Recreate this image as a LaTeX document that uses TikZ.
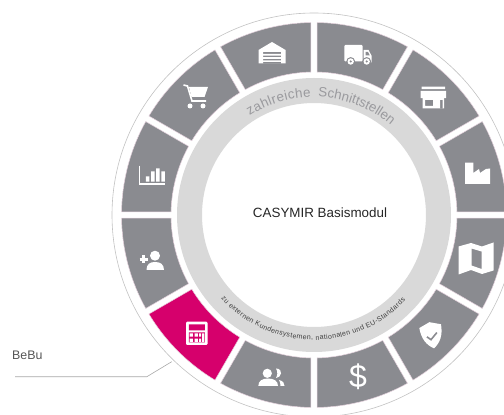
\documentclass[tikz,border=0pt]{standalone}
\usepackage{fontspec}
\setmainfont{Liberation Sans}
\usetikzlibrary{decorations.text}
\definecolor{seggray}{HTML}{8A8B90}
\definecolor{segpink}{HTML}{D6006C}
\definecolor{ringgray}{HTML}{D9D9D9}
\definecolor{edgepink}{HTML}{E6D3DE}
\definecolor{linegray}{HTML}{A8A8A8}
\definecolor{labelgray}{HTML}{555555}
\definecolor{toptext}{HTML}{9A9A9E}
\tikzset{
  segfill/.style={fill=seggray,draw=edgepink,line width=.5pt},
  icon/.style={fill=white,draw=none},
  holegray/.style={fill=seggray,draw=none},
  holepink/.style={fill=segpink,draw=none},
  px/.style={x=1pt,y=-1pt,shift={(0pt,415pt)}},
}
\newcommand{\sector}[3]{%
  \path[segfill,#3] (#1+0.95:192.5) ++(314,200)
    arc[start angle=#1+0.95,end angle=#2-0.95,radius=192.5]
    -- ([shift={(314,200)}]#2-1.28:143)
    arc[start angle=#2-1.28,end angle=#1+1.28,radius=143] -- cycle;}
\begin{document}
\begin{tikzpicture}[x=1pt,y=1pt]
\useasboundingbox (0,0) rectangle (504,415);
\clip (0,0) rectangle (504,415);
\coordinate (hub) at (314,200);
% thin outer ring
\draw[linegray!70,line width=.6pt] (hub) circle[radius=202];
% segments
\foreach \a in {0,30,...,330}{
  \pgfmathtruncatemacro{\b}{\a+30}
  \ifnum\a=210 \sector{\a}{\b}{fill=segpink}\else \sector{\a}{\b}{}\fi
}
% gray ring
\fill[ringgray,even odd rule] (hub) circle[radius=137] (hub) circle[radius=112];
% ring texts
\path[decorate,decoration={text along path,text align=fit to path,
  text={|\fontsize{13.4}{14}\selectfont\color{toptext}|zahlreiche}}]
  ([shift={(314,200)}]123:118) arc[start angle=123,end angle=91.5,radius=118];
\path[decorate,decoration={text along path,text align=fit to path,
  text={|\fontsize{13.4}{14}\selectfont\color{toptext}|Schnittstellen}}]
  ([shift={(314,200)}]88:118) arc[start angle=88,end angle=50,radius=118];
\path[decorate,decoration={text along path,text align=fit to path,
  text={|\fontsize{7}{8}\selectfont\color{black!75}|zu externen Kundensystemen,  nationalen und EU-Standards}}]
  ([shift={(314,200)}]222:125) arc[start angle=222,end angle=317,radius=125];
\node[font=\fontsize{13.4}{15}\selectfont,text=black!85,inner sep=0pt] (core) at (320,202) {CASYMIR Basismodul};
\begin{scope}[px]
% warehouse
\path[icon,even odd rule] (258.5,50) -- (272,42) -- (285.5,50) -- (285.5,63.5) -- (258.5,63.5) -- cycle
  (263,52) rectangle (281,63.5);
\fill[white] (263,54) rectangle (281,55.6) (263,57.2) rectangle (281,58.8) (263,60.4) rectangle (281,62);
% cart
\draw[white,line width=1.6pt] (183.5,85) -- (187.5,86) -- (192,101) -- (206,101);
\path[icon] (189,87) -- (208,87) -- (204.5,97) -- (191.5,97) -- cycle;
\path[icon] (190,106) circle[radius=2.5] (203,106) circle[radius=2.5];
% chart
\draw[white,line width=1.8pt] (139.5,165.7) -- (139.5,184) -- (165,184);
\path[icon] (145.8,176.5) rectangle (149.3,181.7) (151,171.5) rectangle (154.5,181.7)
  (156.2,168.5) rectangle (159.7,181.7) (161.4,171.5) rectangle (164.9,181.7);
% add person
\draw[white,line width=2.2pt] (139.5,259.5) -- (147.5,259.5) (143.5,255.5) -- (143.5,263.5);
\path[icon] (155,255.7) circle[radius=5];
\path[icon] (146.5,270) .. controls (146.5,264) and (150,262) .. (155,262)
  .. controls (160,262) and (164,264) .. (164,270) -- cycle;
% calculator
\path[icon,rounded corners=1.2pt] (186,321.7) rectangle (207.6,345);
\path[holepink] (188.8,324.5) rectangle (204.8,330.5) (188.8,332.5) rectangle (204.8,342.5);
\path[icon] (189.5,333.3) rectangle (192.8,336.6) (194.5,333.3) rectangle (197.8,336.6)
  (199,333.3) rectangle (201.2,336.6) (202.2,333.3) rectangle (204.4,342)
  (189.5,338.6) rectangle (192.8,342) (194.5,338.6) rectangle (197.8,342) (199,338.6) rectangle (201.2,342);
% people
\path[icon] (267.3,373.3) circle[radius=4.6];
\path[icon] (258.3,386) .. controls (258.3,381) and (262,378.5) .. (268,378.5)
  .. controls (274,378.5) and (278,381) .. (278,386) -- cycle;
\path[icon] (276,368.5) .. controls (280,368.5) and (281.5,371.5) .. (281,373.5)
  .. controls (280.5,376) and (278.5,378) .. (276,378)
  .. controls (277.5,375.5) and (278,371.5) .. (276,368.5) -- cycle;
\path[icon] (279,380) .. controls (283,381) and (284.5,383) .. (284.5,386) -- (280.5,386)
  .. controls (280.5,383.5) and (280,381.5) .. (279,380) -- cycle;
% dollar
\node[font=\fontsize{32}{34}\selectfont,text=white,inner sep=0pt] (dollar) at (358,377) {\$};
% shield
\begin{scope}[shift={(431.7,335)},rotate=10]
\path[icon] (0,-13) -- (11,-9) .. controls (11,2) and (7,9) .. (0,13.5)
  .. controls (-7,9) and (-11,2) .. (-11,-9) -- cycle;
\draw[seggray,line width=1.6pt] (-5,1) -- (-1.5,4.5) -- (5.5,-1.5);
\end{scope}
% map
\path[icon,even odd rule] (458.5,246.5) -- (471,243) -- (482,246.5) -- (493.5,242.5) -- (493.5,270.5) -- (482,274) -- (471,270) -- (458.5,274.5) -- cycle
  (471.5,248.5) -- (481.5,251.5) -- (481.5,269) -- (471.5,265.5) -- cycle;
% factory
\path[icon] (465,162.7) -- (473.3,162.7) -- (473.3,173) -- (479,169) -- (480,173) -- (486,169) -- (490,168.5) -- (490,184) -- (465,184) -- cycle;
% store
\path[icon] (421.7,86.7) rectangle (445,89.2) (420.7,90.8) rectangle (446,98.2);
\path[icon,even odd rule] (422.7,98) rectangle (444,108.5) (425,100) rectangle (433,106) (440,100) rectangle (442.5,108.5);
% truck
\path[icon,rounded corners=1pt] (344.3,45) rectangle (362.7,61.5);
\path[icon] (363.5,50) -- (368.5,50) -- (371.7,56) -- (371.7,62.5) -- (363.5,62.5) -- cycle;
\path[holegray] (365.5,52) -- (368,52) -- (369.8,55.5) -- (365.5,55.5) -- cycle;
\fill[seggray] (350.7,61.5) circle[radius=4.4] (366.7,61.5) circle[radius=4.4];
\path[icon] (350.7,61.5) circle[radius=3.2] (366.7,61.5) circle[radius=3.2];
\fill[seggray] (350.7,61.5) circle[radius=1.2] (366.7,61.5) circle[radius=1.2];
% leader
\node[anchor=base west,font=\fontsize{12.4}{14}\selectfont,text=labelgray,inner sep=0pt] (bebu) at (12,360) {BeBu};
\coordinate (leadstart) at (15,376.8);
\coordinate (leadbend) at (146.7,376.8);
\coordinate (leadend) at (171.7,361.7);
\draw[linegray,line width=.6pt] (leadstart) -- (leadbend) -- (leadend);
\end{scope}
\end{tikzpicture}
\end{document}
